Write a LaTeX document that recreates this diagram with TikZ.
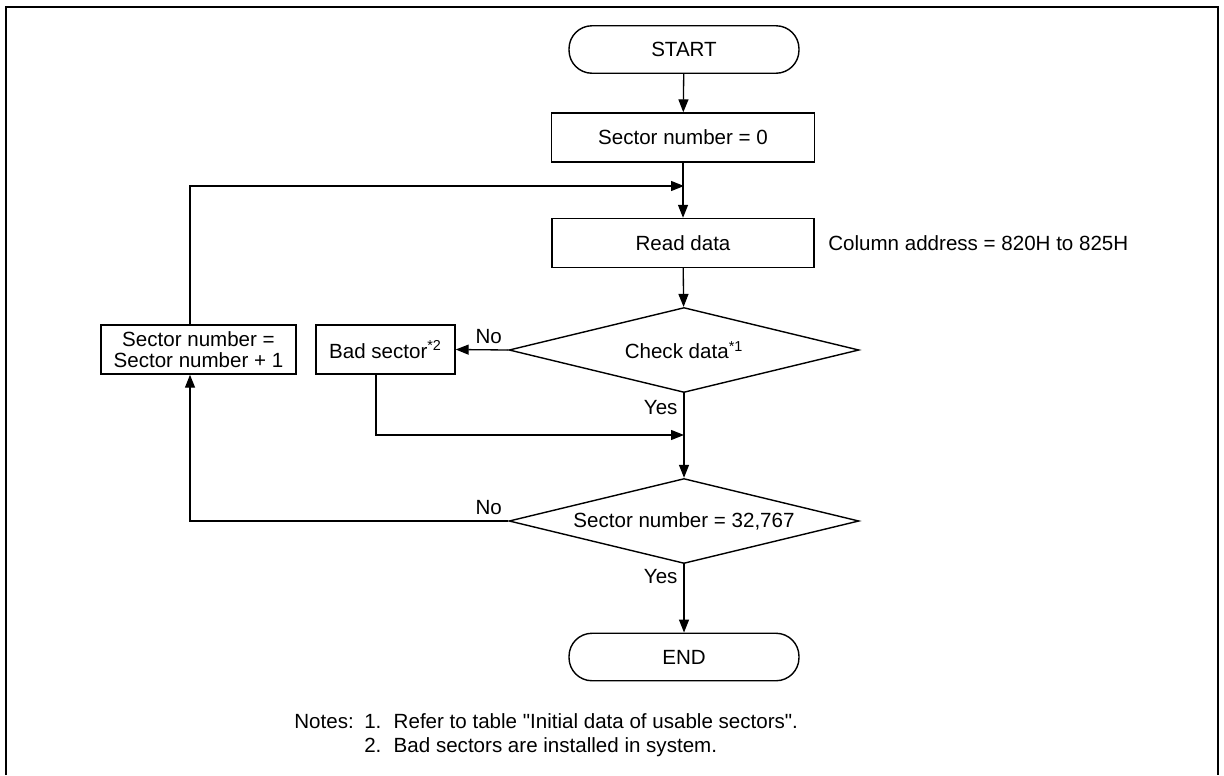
\documentclass[tikz,border=0pt]{standalone}
\usepackage{fontspec}
\setmainfont{Liberation Sans}[Ligatures=TeXOff]
\usetikzlibrary{shapes.geometric,arrows.meta}

\begin{document}
\begin{tikzpicture}[x=0.02cm, y=-0.02cm,
    every node/.style={font=\fontsize{11.7}{14.2}\selectfont},
    terminal/.style={draw, line width=0.8pt, rounded corners=0.46cm,
                     minimum width=4.6cm, minimum height=0.95cm},
    box/.style={draw, line width=0.8pt, align=center, inner sep=2pt,
                minimum width=#1, minimum height=0.98cm},
    decision/.style={draw, diamond, aspect=4, line width=0.8pt, inner sep=0pt,
                     minimum width=7cm, minimum height=1.7cm},
    flow/.style={line width=0.75pt, -{Triangle[length=2.6mm,width=2mm]}}]

\useasboundingbox (0,0) rectangle (1224,775);

% frame, open at the bottom
\draw[line width=1.1pt] (6,775) -- (6,7) -- (1218,7) -- (1218,775);

\node[terminal] (start) at (684,49.5) {START};
\node[box=5.26cm] (init) at (683,137.5) {Sector number = 0};
\node[box=5.24cm] (read) at (683,243) {Read data};
\node[anchor=west, inner sep=0pt] (col) at (828,243) {Column address = 820H to 825H};
\node[decision] (check) at (684,350) {Check data\textsuperscript{*1}};
\node[box=2.78cm] (bad) at (385.5,349.5) {Bad sector\textsuperscript{*2}};
\node[box=3.9cm, font=\fontsize{11.7}{11.8}\selectfont] (incr) at (198.5,349.5)
    {Sector number =\\Sector number + 1};
\node[decision] (last) at (684,521) {Sector number = 32,767};
\node[terminal] (finish) at (684,657) {END};

\coordinate (loop) at (684,186);
\coordinate (merge) at (684,435);

\draw[flow] (start) -- (init);
\draw[flow] (init) -- (read);
\draw[flow] ([xshift=-0.17cm]incr.north) |- (loop);
\draw[flow] (read) -- (check);
\draw[flow] (check.west) node[above left] {No} -- (bad.east);
\draw[flow] ([xshift=-0.19cm]bad.south) |- (merge);
\draw[flow] (check.south) -- node[pos=0.17, left] {Yes} (last.north);
\draw[flow] (last.west) node[above left] {No} -| ([xshift=-0.17cm]incr.south);
\draw[flow] (last.south) -- node[pos=0.18, left] {Yes} (finish.north);

% notes
\node[anchor=west, inner sep=0pt] (notes) at (294,735.5) {%
  \begin{tabular}{@{}r@{\hspace{6pt}}l@{}}
    Notes: & 1.\hspace{7pt}Refer to table "Initial data of usable sectors".\\
           & 2.\hspace{7pt}Bad sectors are installed in system.
  \end{tabular}};

\end{tikzpicture}
\end{document}
